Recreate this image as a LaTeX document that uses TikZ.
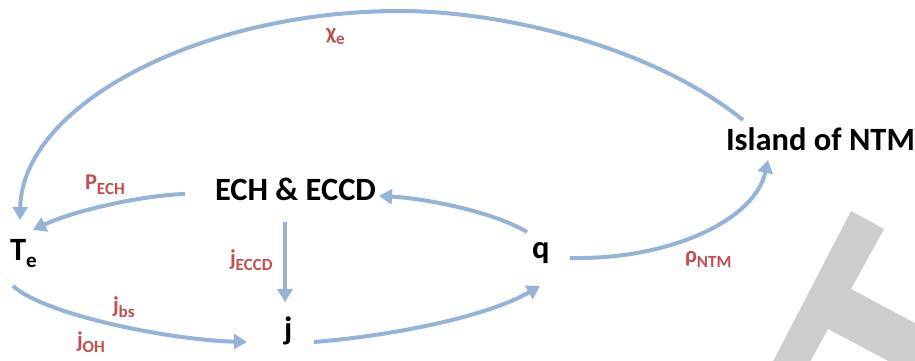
\documentclass[tikz,border=0pt]{standalone}
\usepackage{fontspec}
\setmainfont{Carlito}
\usetikzlibrary{arrows.meta}
\definecolor{arrblue}{HTML}{95B3D7}
\definecolor{labred}{HTML}{C0504D}
\definecolor{tgray}{HTML}{CDCDCD}
\newcommand{\mylab}[2]{#1\raisebox{-5pt}{\fontsize{17}{17}\selectfont #2}}
\newcommand{\mynode}[2]{#1\raisebox{-7pt}{\fontsize{21}{21}\selectfont #2}}
\tikzset{
  main/.style={anchor=base west, inner sep=0pt, outer sep=0pt, font=\bfseries\fontsize{32.5}{32.5}\selectfont, text=black},
  lab/.style={anchor=base west, inner sep=0pt, outer sep=0pt, font=\bfseries\fontsize{22.5}{22.5}\selectfont, text=labred},
  arr/.style={draw=arrblue, line width=4pt, -{Triangle[length=13pt,width=15pt]}}
}
\begin{document}
\begin{tikzpicture}[x=1pt,y=-1pt]
\fill[white] (0,0) rectangle (915,361);
\useasboundingbox (0,0) rectangle (915,361);
\begin{scope}
\clip (0,0) rectangle (915,361);
\fill[tgray] (851,211) -- (884,229) -- (851,289) -- (960,347) -- (960,399) -- (828,329) -- (789,400) -- (753,400) -- cycle;
\end{scope}

\node[main] (island) at (726,150) {Island of NTM};
\node[main] (ech) at (215,200) {ECH \& ECCD};
\node[main] (Te) at (10,260) {\mynode{T}{e}};
\node[main] (q) at (532,258) {q};
\node[main] (j) at (284,339) {j};

\node[lab] (lchi) at (326,40) {\mylab{χ}{e}};
\node[lab] (lpech) at (85,189) {\mylab{P}{ECH}};
\node[lab] (ljeccd) at (230,265) {\mylab{j}{ECCD}};
\node[lab] (ljbs) at (113,312) {\mylab{j}{bs}};
\node[lab] (ljoh) at (77,347) {\mylab{j}{OH}};
\node[lab] (lrho) at (685,262) {\mylab{ρ}{NTM}};

\draw[arr] ([shift={(17,-30)}]island.base west) .. controls (650,45) and (500,11) .. (400,11) .. controls (200,11) and (22,105) .. ([shift={(10,-40)}]Te.base west);
\draw[arr] ([shift={(-30,-6)}]ech.base west) .. controls (145,195) and (75,210) .. ([shift={(23,-30)}]Te.base west);
\draw[arr] ([shift={(70,22)}]ech.base west) -- ([shift={(1,-37)}]j.base west);
\draw[arr] ([shift={(3,26)}]Te.base west) .. controls (45,315) and (170,340) .. ([shift={(-37,3)}]j.base west);
\draw[arr] ([shift={(30,3)}]j.base west) .. controls (400,335) and (490,315) .. ([shift={(8,28)}]q.base west);
\draw[arr] ([shift={(-5,-26)}]q.base west) .. controls (490,210) and (420,198) .. ([shift={(164,-4)}]ech.base west);
\draw[arr] ([shift={(38,0)}]q.base west) .. controls (670,260) and (755,220) .. ([shift={(42,10)}]island.base west);
\end{tikzpicture}
\end{document}
